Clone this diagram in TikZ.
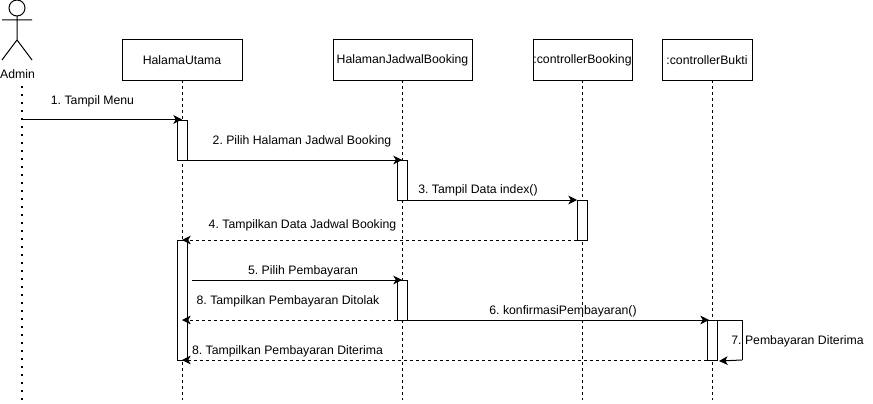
\documentclass[tikz,border=0pt]{standalone}
\usepackage{fontspec}
\setmainfont{Liberation Sans}
\usetikzlibrary{arrows.meta}
\frenchspacing
\tikzset{
  x=0.75pt,y=-0.75pt,
  every node/.style={font=\fontsize{9.2}{11}\selectfont,inner sep=0pt,outer sep=0pt},
  lifebox/.style={draw=black,line width=0.75pt,fill=white,minimum height=30pt,anchor=north west},
  lifeline/.style={line width=0.75pt,dash pattern=on 2.25pt off 2.25pt},
  actbox/.style={draw=black,line width=0.75pt,fill=white,minimum width=7.5pt,anchor=north west},
  msg/.style={line width=0.75pt,-{Stealth[length=6.5pt,width=6.5pt,inset=1.8pt]}},
  retmsg/.style={msg,dash pattern=on 2.25pt off 2.25pt},
  lbl/.style={anchor=center}
}
\begin{document}
\begin{tikzpicture}
\useasboundingbox (0,0) rectangle (873,403);
\fill[white] (0,0) rectangle (873,403);
% actor
\node[draw=black,circle,line width=0.75pt,minimum size=12pt] (head) at (17,8) {};
\coordinate (hip) at (17,40);
\coordinate (armL) at (2,20);
\coordinate (armR) at (32,20);
\coordinate (legL) at (2,60);
\coordinate (legR) at (32,60);
\draw[line width=0.75pt] (head.south) -- (hip) (armL) -- (armR) (legL) -- (hip) -- (legR);
\node[lbl] (admin) at (17.5,74) {Admin};
\coordinate (adminTop) at (22,86);
\coordinate (adminEnd) at (22,400);
\draw[line width=1.5pt,dash pattern=on 1.5pt off 4.5pt] (adminTop) -- (adminEnd);
% lifeline heads
\node[lifebox,minimum width=90pt] (hu) at (122,40) {HalamaUtama};
\node[lifebox,minimum width=104.25pt] (hj) at (333,40) {HalamanJadwalBooking};
\node[lifebox,minimum width=74.25pt] (cb) at (533,40) {:controllerBooking};
\node[lifebox,minimum width=67.5pt] (cu) at (662,40) {:controllerBukti};
% lifelines
\coordinate (huEnd) at (182,400);
\coordinate (hjEnd) at (402,400);
\coordinate (cbEnd) at (582,400);
\coordinate (cuEnd) at (712,400);
\draw[lifeline] (182,80) -- (huEnd);
\draw[lifeline] (402,80) -- (hjEnd);
\draw[lifeline] (582,80) -- (cbEnd);
\draw[lifeline] (712,80) -- (cuEnd);
% activations
\node[actbox,minimum height=30pt] (a1) at (177,120) {};
\node[actbox,minimum height=30pt] (a2) at (397,160) {};
\node[actbox,minimum height=30pt] (a3) at (577,200) {};
\node[actbox,minimum height=90pt] (a4) at (177,240) {};
\node[actbox,minimum height=30pt] (a5) at (397,280) {};
\node[actbox,minimum height=30pt] (a6) at (707,320) {};
% free ends
\coordinate (m1s) at (22,119.5);
\coordinate (m1e) at (182,119.5);
\coordinate (m5s) at (192,280);
\coordinate (m6e) at (709,320);
\coordinate (m7a) at (742,320);
\coordinate (m7b) at (742,360);
\coordinate (m7e) at (719,361);
\coordinate (m8t) at (182,320);
% messages
\draw[msg] (m1s) -- (m1e);
\draw[msg] (a1.south east) -- (a2.north);
\draw[msg] (a2.south east) -- (a3.north west);
\draw[retmsg] (a3.south west) -- (a4.north);
\draw[msg] (m5s) -- (a5.north);
\draw[retmsg] (a5.south west) -- (m8t);
\draw[msg] (a5.south east) -- (m6e);
\draw[line width=0.75pt] (a6.north east) -- (m7a) -- (m7b);
\draw[msg] (m7b) -- (m7e);
\draw[retmsg] (a6.south west) -- (a4.south);
% labels
\node[lbl] (l1) at (92.5,101) {1. Tampil Menu};
\node[lbl] (l2) at (302,141) {2. Pilih Halaman Jadwal Booking};
\node[lbl] (l3) at (478,190.5) {3. Tampil Data index()};
\node[lbl] (l4) at (302.5,225) {4. Tampilkan Data Jadwal Booking};
\node[lbl] (l5) at (303,271) {5. Pilih Pembayaran};
\node[lbl] (l8a) at (288,301) {8. Tampilkan Pembayaran Ditolak};
\node[lbl] (l6) at (563,311.5) {6. konfirmasiPembayaran()};
\node[lbl] (l7) at (797.5,341) {7. Pembayaran Diterima};
\node[lbl] (l8b) at (287.5,351) {8. Tampilkan Pembayaran Diterima};
\end{tikzpicture}
\end{document}
